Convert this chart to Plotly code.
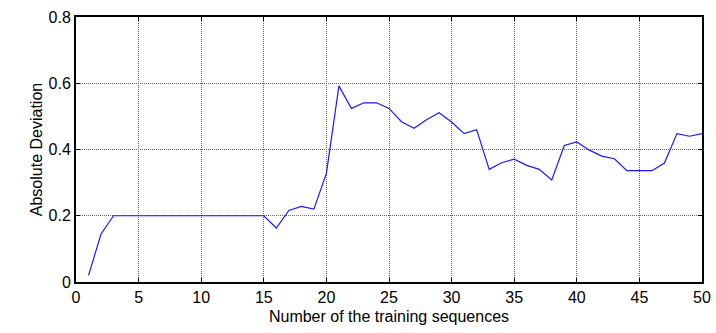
import plotly.graph_objects as go

x_vals = list(range(1, 51))
deviation = [0.02, 0.145, 0.2, 0.2, 0.2, 0.2, 0.2, 0.2, 0.2, 0.2,
             0.2, 0.2, 0.2, 0.2, 0.2, 0.163, 0.216, 0.228, 0.22, 0.328,
             0.592, 0.524, 0.541, 0.541, 0.524, 0.484, 0.464, 0.49, 0.511, 0.483,
             0.448, 0.46, 0.34, 0.36, 0.371, 0.352, 0.34, 0.308, 0.412, 0.423,
             0.398, 0.38, 0.372, 0.336, 0.336, 0.336, 0.359, 0.448, 0.44, 0.448]

x_ticks = list(range(0, 51, 5))
y_ticks = [0, 0.2, 0.4, 0.6, 0.8]

FONT = "Liberation Sans, Arial, Helvetica, sans-serif"

fig = go.Figure()
fig.add_trace(go.Scatter(x=x_vals, y=deviation, mode="lines",
                         line=dict(color="#1a1aff", width=1.2), showlegend=False))

axis_common = dict(
    showline=True, linecolor="black", linewidth=2, mirror="allticks",
    ticks="inside", ticklen=4, tickcolor="black", tickwidth=1,
    showgrid=True, gridcolor="#666666", griddash="1px,1px", gridwidth=1,
    zeroline=False, automargin=False,
    tickfont=dict(family=FONT, size=16, color="black"),
)

fig.update_xaxes(range=[0, 50], tickvals=x_ticks, **axis_common,
                 title=dict(text="Number of the training sequences", standoff=6,
                            font=dict(family=FONT, size=16, color="black")))
fig.update_yaxes(range=[0, 0.8], tickvals=y_ticks, **axis_common,
                 title=dict(text="Absolute Deviation", standoff=2,
                            font=dict(family=FONT, size=16, color="black")))

fig.update_layout(width=716, height=333, autosize=False,
                  margin=dict(l=76, r=14, t=17, b=51, pad=0),
                  plot_bgcolor="white", paper_bgcolor="white")

fig.write_html("out.html")
